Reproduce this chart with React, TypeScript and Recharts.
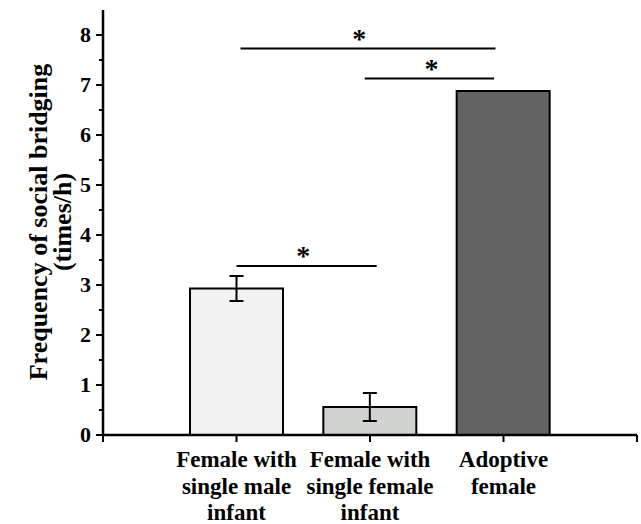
import React from "react";
import { BarChart, Bar, XAxis, YAxis, ErrorBar, ReferenceLine, ReferenceDot, Label } from "recharts";

const groups = [
  ["Female with", "single male", "infant"],
  ["Female with", "single female", "infant"],
  ["Adoptive", "female"],
];
const positions = [1, 2, 3];
const means = [2.93, 0.56, 6.88];
const errors: (number | null)[] = [0.25, 0.28, null];
const fills = ["#f2f2f2", "#d0d2d0", "#636363"];

const yTicks = [0, 0.5, 1, 1.5, 2, 2.5, 3, 3.5, 4, 4.5, 5, 5.5, 6, 6.5, 7, 7.5, 8];
const xTicks = [0, 1, 2, 3, 4];

// significance brackets: x from/to on the position scale, y in data units, star x
const brackets = [
  { x1: 1.0, x2: 2.05, y: 3.38, star: 1.5 },
  { x1: 1.03, x2: 2.94, y: 7.73, star: 1.92 },
  { x1: 1.96, x2: 2.93, y: 7.13, star: 2.46 },
];

const data = groups.map((g, i) => ({
  name: g.join(" "),
  pos: positions[i],
  mean: means[i],
  err: errors[i],
  fill: fills[i],
}));

const font = "'Liberation Serif', 'Times New Roman', serif";

const YTick = (props: any) => {
  const { x, y, payload } = props;
  const major = Number.isInteger(payload.value);
  return (
    <g>
      <line x1={x} x2={x - (major ? 7 : 4)} y1={y} y2={y} stroke="#000" strokeWidth={2} />
      {major && (
        <text x={x - 12} y={y + 7} textAnchor="end" fontFamily={font} fontWeight="bold" fontSize={22} fill="#000">
          {payload.value}
        </text>
      )}
    </g>
  );
};

const XTick = (props: any) => {
  const { x, y, payload } = props;
  const idx = positions.indexOf(payload.value);
  const lines = idx >= 0 ? groups[idx] : [];
  return (
    <g>
      <line x1={x} x2={x} y1={y} y2={y + 7} stroke="#000" strokeWidth={2} />
      {lines.map((l, i) => (
        <text key={i} x={x} y={y + 32 + i * 26.5} textAnchor="middle" fontFamily={font} fontWeight="bold" fontSize={23} fill="#000">
          {l}
        </text>
      ))}
    </g>
  );
};

const YLabel = () => {
  const cy = 222;
  return (
    <g>
      <text transform={`translate(47, ${cy}) rotate(-90)`} textAnchor="middle" fontFamily={font} fontWeight="bold" fontSize={26} fill="#000">
        Frequency of social bridging
      </text>
      <text transform={`translate(71, ${cy}) rotate(-90)`} textAnchor="middle" fontFamily={font} fontWeight="bold" fontSize={26} fill="#000">
        (times/h)
      </text>
    </g>
  );
};

const Star = (props: any) => (
  <text x={props.cx} y={props.cy - 1} textAnchor="middle" fontFamily={font} fontWeight="bold" fontSize={28} fill="#000">
    *
  </text>
);

export default function App() {
  return (
    <div style={{ position: "absolute", left: 0, top: 0, width: 641, height: 524, background: "#fff" }}>
      <BarChart width={641} height={524} data={data} margin={{ top: 10, right: 4, bottom: 0, left: 0 }} barCategoryGap="15%">
        <XAxis
          xAxisId="num"
          dataKey="pos"
          type="number"
          domain={[0, 4]}
          ticks={xTicks}
          interval={0}
          height={89}
          tickSize={0}
          tickMargin={0}
          tickLine={false}
          tick={<XTick />}
          axisLine={{ stroke: "#000", strokeWidth: 2.5 }}
          allowDataOverflow
        />
        <XAxis xAxisId="cat" dataKey="name" type="category" hide height={0} padding={{ left: 67, right: 67 }} />
        <YAxis
          domain={[0, 8.5]}
          ticks={yTicks}
          interval={0}
          width={103}
          tickSize={0}
          tickMargin={0}
          tickLine={false}
          tick={<YTick />}
          axisLine={{ stroke: "#000", strokeWidth: 2.5 }}
          allowDataOverflow
        >
          <Label content={<YLabel />} />
        </YAxis>
        <Bar xAxisId="cat" dataKey="mean" stroke="#000" strokeWidth={2} isAnimationActive={false}>
          <ErrorBar dataKey="err" width={7} stroke="#000" strokeWidth={2} isAnimationActive={false} />
        </Bar>
        {brackets.map((b, i) => (
          <ReferenceLine
            key={`l${i}`}
            xAxisId="num"
            segment={[{ x: b.x1, y: b.y }, { x: b.x2, y: b.y }]}
            stroke="#000"
            strokeWidth={2}
            ifOverflow="visible"
          />
        ))}
        {brackets.map((b, i) => (
          <ReferenceDot key={`s${i}`} xAxisId="num" x={b.star} y={b.y} r={0} shape={<Star />} ifOverflow="visible" />
        ))}
      </BarChart>
    </div>
  );
}
